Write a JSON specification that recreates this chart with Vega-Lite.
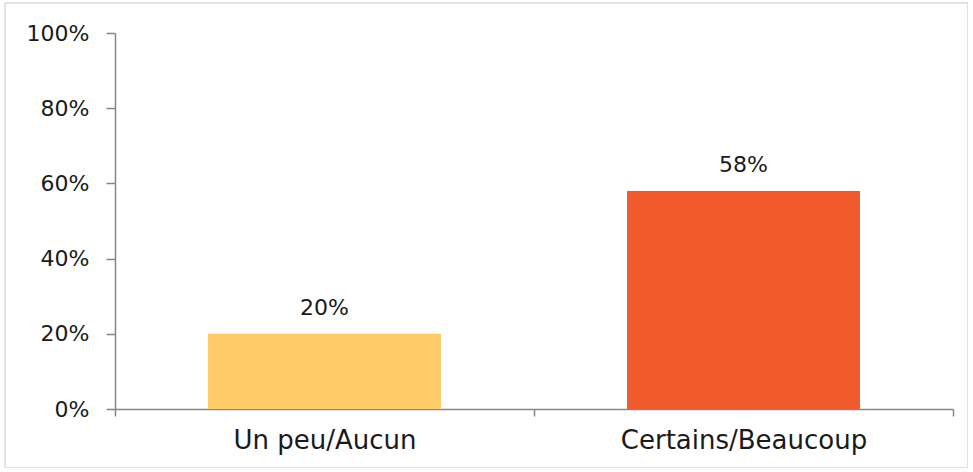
{
  "$schema": "https://vega.github.io/schema/vega-lite/v6.json",
  "width": 963,
  "height": 465,
  "autosize": {"type": "none"},
  "padding": {"left": 5, "top": 3, "right": 0, "bottom": 0},
  "background": "white",
  "config": {
    "view": {"stroke": "#d9d9d9", "strokeWidth": 1.5},
    "font": "DejaVu Sans"
  },
  "data": {
    "values": [
      {"cat": "Un peu/Aucun", "value": 0.20, "label": "20%", "color": "#FECB66"},
      {"cat": "Certains/Beaucoup", "value": 0.58, "label": "58%", "color": "#F15A2A"}
    ]
  },
  "encoding": {
    "x": {
      "field": "cat",
      "type": "nominal",
      "sort": null,
      "scale": {"range": [110, 948], "paddingInner": 0, "paddingOuter": 0},
      "axis": {
        "title": null,
        "offset": -59,
        "labelAngle": 0,
        "labelLimit": 0,
        "tickBand": "extent",
        "domainColor": "#868686",
        "domainWidth": 1.5,
        "tickColor": "#868686",
        "tickWidth": 1.5,
        "tickSize": 7,
        "labelPadding": 11,
        "labelFontSize": 26,
        "labelColor": "#1a1a1a",
        "labelFont": "DejaVu Sans"
      }
    },
    "y": {
      "field": "value",
      "type": "quantitative",
      "scale": {"domain": [0, 1], "range": [406, 30], "nice": false},
      "axis": {
        "title": null,
        "offset": -110,
        "values": [0, 0.2, 0.4, 0.6, 0.8, 1],
        "format": ".0%",
        "grid": false,
        "domainColor": "#868686",
        "domainWidth": 1.5,
        "tickColor": "#868686",
        "tickWidth": 1.5,
        "tickSize": 9,
        "labelPadding": 17,
        "labelFontSize": 22,
        "labelColor": "#1a1a1a",
        "labelFont": "DejaVu Sans"
      }
    }
  },
  "layer": [
    {
      "mark": {"type": "bar", "width": {"band": 0.556}},
      "encoding": {
        "color": {"field": "color", "type": "nominal", "scale": null, "legend": null}
      }
    },
    {
      "mark": {"type": "text", "baseline": "bottom", "dy": -14, "fontSize": 22, "color": "#1a1a1a", "font": "DejaVu Sans"},
      "encoding": {"text": {"field": "label"}}
    }
  ]
}
